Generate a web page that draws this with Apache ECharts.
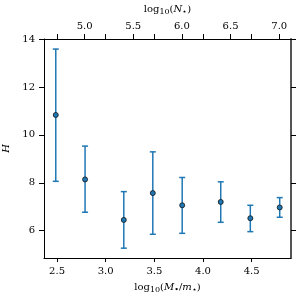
<!DOCTYPE html>
<html>
<head>
<meta charset="utf-8">
<script src="https://cdn.jsdelivr.net/npm/echarts@6/dist/echarts.min.js"></script>
<style>html,body{margin:0;padding:0;background:#fff;}#c{width:300px;height:300px;}</style>
</head>
<body>
<div id="c"></div>
<script>
// Data
const logMass = [2.487, 2.788, 3.186, 3.484, 3.786, 4.182, 4.486, 4.788];
const hValue  = [10.83, 8.14, 6.45, 7.57, 7.06, 7.20, 6.52, 6.97];
const hLow    = [8.06, 6.77, 5.27, 5.85, 5.89, 6.35, 5.96, 6.56];
const hHigh   = [13.58, 9.53, 7.63, 9.29, 8.22, 8.04, 7.06, 7.38];
const xTickLabels = [2.5, 3.0, 3.5, 4.0, 4.5];
const yTickLabels = [6, 8, 10, 12, 14];
const topTickLabels = [5.0, 5.5, 6.0, 6.5, 7.0];
const topOffset = 2.217; // log10(N*) = log10(M*/m*) + offset

const xMin = 2.366, xMax = 4.904, yMin = 4.86, yMax = 14;
const FONT = 'DejaVu Serif';
const C0 = '#1f77b4';

const points = logMass.map((x, i) => [x, hValue[i]]);
const bars = logMass.map((x, i) => [x, hLow[i], hHigh[i]]);

const richName = {
  a: {fontFamily: FONT, fontSize: 10, color: '#000', lineHeight: 14},
  i: {fontFamily: FONT, fontSize: 10, fontStyle: 'italic', color: '#000', lineHeight: 14},
  s: {fontFamily: FONT, fontSize: 8, color: '#000', verticalAlign: 'bottom', lineHeight: 9}
};

const chart = echarts.init(document.getElementById('c'), null, {renderer: 'canvas'});
chart.setOption({
  animation: false,
  backgroundColor: '#fff',
  grid: {left: 44, right: 9, top: 39, bottom: 42, containLabel: false, outerBoundsMode: 'none'},
  xAxis: [{
    type: 'value', min: xMin, max: xMax, position: 'bottom',
    name: '{a|log}{s|10}{a|(}{i|M}{s|•}{a|/}{i|m}{s|⋆}{a|)}',
    nameLocation: 'middle', nameGap: 22,
    nameTextStyle: {rich: richName},
    axisLine: {show: true, lineStyle: {color: '#000', width: 1}},
    axisTick: {show: true, inside: false, length: 4, customValues: xTickLabels, lineStyle: {color: '#000', width: 1}},
    axisLabel: {customValues: xTickLabels, formatter: v => v.toFixed(1), fontFamily: FONT, fontSize: 10, color: '#000', margin: 8},
    splitLine: {show: false}
  }, {
    type: 'value', min: xMin + topOffset, max: xMax + topOffset, position: 'top',
    name: '{a|log}{s|10}{a|(}{i|N}{s|⋆}{a|)}',
    nameLocation: 'middle', nameGap: 22,
    nameTextStyle: {rich: richName},
    axisLine: {show: true, lineStyle: {color: '#000', width: 1}},
    axisTick: {show: true, inside: false, length: 5,
      customValues: topTickLabels.concat(xTickLabels.map(v => v + topOffset)),
      lineStyle: {color: '#000', width: 1}},
    axisLabel: {customValues: topTickLabels, formatter: v => v.toFixed(1), fontFamily: FONT, fontSize: 10, color: '#000', margin: 8},
    splitLine: {show: false}
  }],
  yAxis: [{
    type: 'value', min: yMin, max: yMax, position: 'left',
    name: 'H', nameLocation: 'middle', nameGap: 32, nameRotate: 90,
    nameTextStyle: {fontFamily: FONT, fontSize: 10, fontStyle: 'italic', color: '#000'},
    axisLine: {show: true, lineStyle: {color: '#000', width: 1}},
    axisTick: {show: true, inside: false, length: 5, customValues: yTickLabels, lineStyle: {color: '#000', width: 1}},
    axisLabel: {customValues: yTickLabels, formatter: v => String(Math.round(v)), fontFamily: FONT, fontSize: 10, color: '#000', margin: 9},
    splitLine: {show: false}
  }, {
    type: 'value', min: yMin, max: yMax, position: 'right',
    axisLine: {show: true, lineStyle: {color: '#555', width: 2}},
    axisTick: {show: true, inside: false, length: 5, customValues: yTickLabels, lineStyle: {color: '#000', width: 1}},
    axisLabel: {show: false},
    splitLine: {show: false}
  }],
  series: [{
    type: 'custom',
    xAxisIndex: 0, yAxisIndex: 0,
    data: bars,
    renderItem: function (params, api) {
      const x = api.value(0);
      const lo = api.coord([x, api.value(1)]);
      const hi = api.coord([x, api.value(2)]);
      const cap = 3;
      const st = {stroke: C0, lineWidth: 1.5};
      return {
        type: 'group',
        children: [
          {type: 'line', shape: {x1: lo[0], y1: lo[1], x2: hi[0], y2: hi[1]}, style: st},
          {type: 'line', shape: {x1: lo[0] - cap, y1: lo[1], x2: lo[0] + cap, y2: lo[1]}, style: st},
          {type: 'line', shape: {x1: hi[0] - cap, y1: hi[1], x2: hi[0] + cap, y2: hi[1]}, style: st}
        ]
      };
    },
    z: 2
  }, {
    type: 'scatter',
    xAxisIndex: 0, yAxisIndex: 0,
    data: points,
    symbol: 'circle', symbolSize: 5,
    itemStyle: {color: C0, borderColor: '#111', borderWidth: 0.8, opacity: 1},
    z: 3
  }]
});
</script>
</body>
</html>
